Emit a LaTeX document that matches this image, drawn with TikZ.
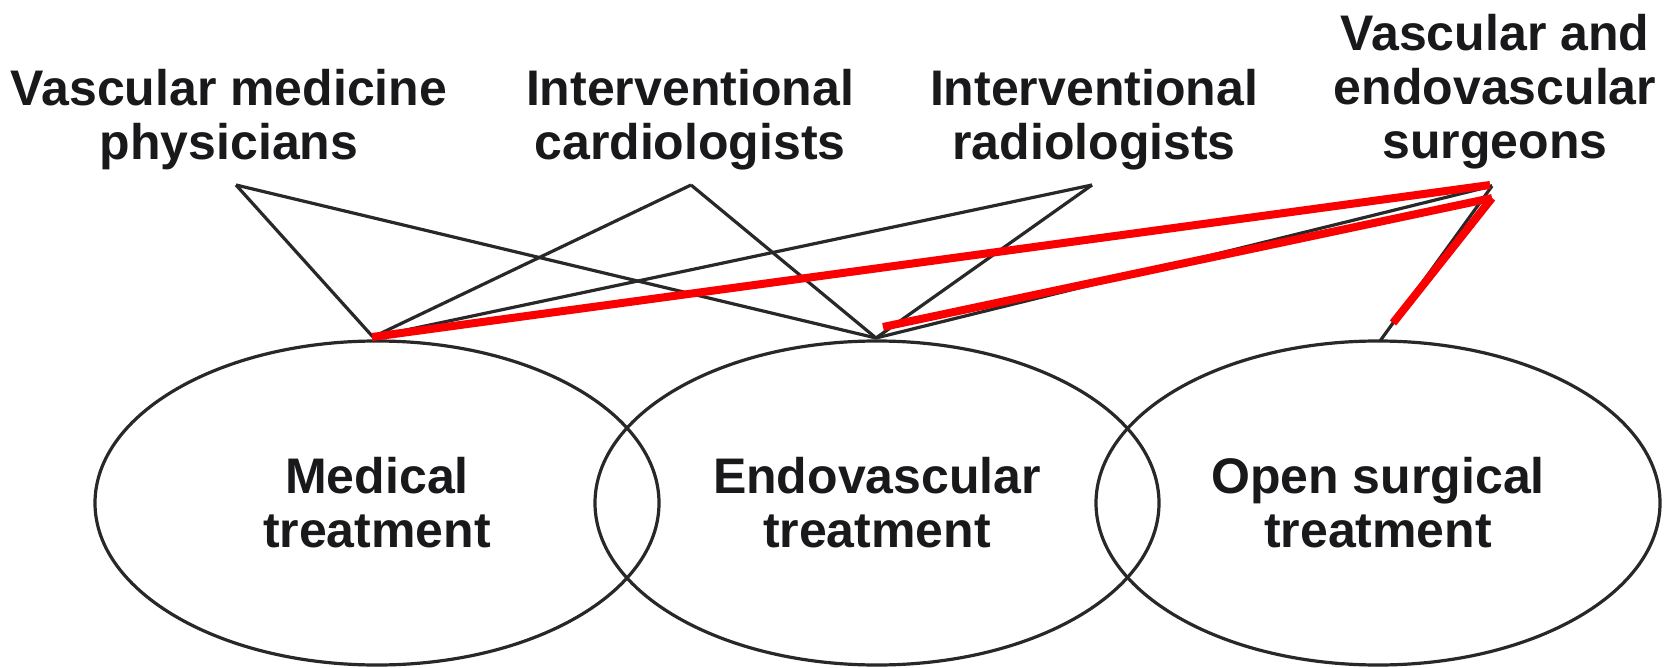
\documentclass[tikz,border=0pt]{standalone}
\usepackage{fontspec}
\setmainfont{Liberation Sans}
\usetikzlibrary{shapes.geometric}
\definecolor{ink}{RGB}{25,25,28}
\definecolor{linegray}{RGB}{40,40,40}
\definecolor{hl}{RGB}{250,0,0}
\begin{document}
\begin{tikzpicture}[x=1pt,y=-1pt,
  lbl/.style={font=\fontsize{50}{54}\selectfont\bfseries, text=ink, align=center, inner sep=0pt},
  treat/.style={ellipse, draw=linegray, line width=3.2pt, minimum width=564pt, minimum height=324pt, inner sep=0pt, lbl},
  link/.style={draw=linegray, line width=3.2pt},
  hlt/.style={draw=hl, line width=8pt}]
\useasboundingbox (0,0) rectangle (1669,668);
\fill[white] (0,0) rectangle (1669,668);
% treatment ellipses
\node[treat] (med)  at (377,503) {Medical\\treatment};
\node[treat] (endo) at (877,503) {Endovascular\\treatment};
\node[treat] (open) at (1378,503) {Open surgical\\treatment};
% specialist labels
\node[lbl, anchor=north] (vmp) at (229,69) {Vascular medicine\\physicians};
\node[lbl, anchor=north] (ic)  at (690,69) {Interventional\\cardiologists};
\node[lbl, anchor=north] (ir)  at (1094,69) {Interventional\\radiologists};
\node[lbl, anchor=north] (ves) at (1495,14) {Vascular and\\endovascular\\surgeons};
% apex points below labels
\coordinate (vmpA) at (236,185);
\coordinate (icA)  at (691,185);
\coordinate (irA)  at (1092,185);
\coordinate (vesA) at (1492,186);
% ellipse meeting points
\coordinate (medT)  at (373,337);
\coordinate (endoT) at (876,338);
\coordinate (openT) at (1380,341);
% black connectors
\draw[link] (vmpA) -- (medT);
\draw[link] (vmpA) -- (endoT);
\draw[link] (icA) -- (medT);
\draw[link] (icA) -- (endoT);
\draw[link] (irA) -- (medT);
\draw[link] (irA) -- (endoT);
\draw[link] (vesA) -- (medT);
\draw[link] (vesA) -- (endoT);
\draw[link] (vesA) -- (openT);
% red highlights
\coordinate (vesR1) at (1490,185);
\coordinate (medR)  at (372,337);
\coordinate (endoR) at (883,327);
\coordinate (vesR2) at (1492,198);
\coordinate (openR) at (1393,323);
\draw[hlt] (medR) -- (vesR1);
\draw[hlt] (endoR) -- (vesR2);
\draw[hlt] (vesR2) -- (openR);
\end{tikzpicture}
\end{document}
